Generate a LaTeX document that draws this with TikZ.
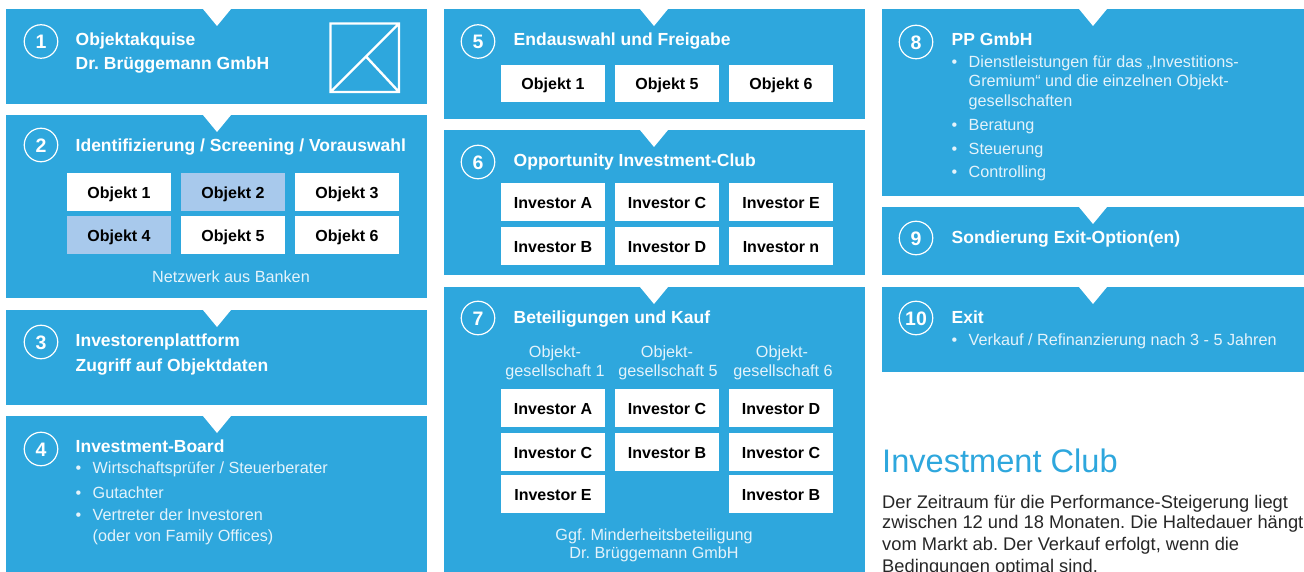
\documentclass[tikz,border=0pt]{standalone}
\usepackage{fontspec}
\setmainfont{Liberation Sans}
\frenchspacing
\definecolor{panelblue}{HTML}{2EA7DD}
\definecolor{lightblue}{HTML}{A8C9EC}
\definecolor{headblue}{HTML}{2EA7DD}
\definecolor{softwhite}{HTML}{E4F3FB}
\tikzset{
  panel/.style={fill=panelblue,draw=none},
  notch/.style={fill=white,draw=none},
  numc/.style={circle,draw=white,line width=1.2pt,minimum size=33.5pt,inner sep=0pt,text height=15pt,text depth=0pt,text=white,font=\fontsize{19.5}{19.5}\selectfont\bfseries},
  title/.style={anchor=base west,inner sep=0pt,text=white,font=\fontsize{17.5}{17.5}\selectfont\bfseries},
  body/.style={anchor=base west,inner sep=0pt,text=softwhite,font=\fontsize{16.2}{16.2}\selectfont},
  bodyc/.style={anchor=base,inner sep=0pt,text=softwhite,font=\fontsize{16.2}{16.2}\selectfont},
  cell/.style={fill=white,draw=none,minimum width=104pt,minimum height=38pt,inner sep=0pt,text height=12.6pt,text depth=0pt,text=black,font=\fontsize{16}{16}\selectfont\bfseries},
  cellb/.style={cell,fill=lightblue},
  para/.style={anchor=base west,inner sep=0pt,text=black!85,font=\fontsize{18.3}{18.3}\selectfont}
}
\newcommand{\panelbox}[5]{%
  \fill[panel] (#1,#2) rectangle (#3,#4);
  \fill[notch] (#5-14,#2) -- (#5+14,#2) -- (#5,#2+17) -- cycle;
}
\begin{document}
\begin{tikzpicture}[x=1pt,y=-1pt]
\useasboundingbox (0,0) rectangle (1304,572);
% column 1
\panelbox{6}{9}{427}{104}{217}
\panelbox{6}{115}{427}{298}{217}
\panelbox{6}{310}{427}{405}{217}
\panelbox{6}{416}{427}{572}{217}
% column 2
\panelbox{444}{9}{865}{119}{654}
\panelbox{444}{130}{865}{275}{654}
\panelbox{444}{287}{865}{572}{654}
% column 3
\panelbox{882}{9}{1304}{196}{1093}
\panelbox{882}{207}{1304}{275}{1093}
\panelbox{882}{287}{1304}{372}{1093}
% number circles
\node[numc] (n1) at (41,41.5) {1};
\node[numc] (n2) at (41,145) {2};
\node[numc] (n3) at (41,342) {3};
\node[numc] (n4) at (41,449) {4};
\node[numc] (n5) at (478,41.5) {5};
\node[numc] (n6) at (478,162) {6};
\node[numc] (n7) at (478,318) {7};
\node[numc] (n8) at (916,42) {8};
\node[numc] (n9) at (916,238) {9};
\node[numc] (n10) at (916,318) {10};
% titles
\node[title] (t1a) at (75.5,45.3) {Objektakquise};
\node[title] (t1b) at (75.5,69.3) {Dr. Brüggemann GmbH};
\node[title] (t2) at (75.5,151.3) {Identifizierung / Screening / Vorauswahl};
\node[title] (t3a) at (75.5,346.3) {Investorenplattform};
\node[title] (t3b) at (75.5,371.3) {Zugriff auf Objektdaten};
\node[title] (t4) at (75.5,452.3) {Investment-Board};
\node[title] (t5) at (513.5,45.3) {Endauswahl und Freigabe};
\node[title] (t6) at (513.5,166.3) {Opportunity Investment-Club};
\node[title] (t7) at (513.5,323.3) {Beteiligungen und Kauf};
\node[title] (t8) at (951.5,45.3) {PP GmbH};
\node[title] (t9) at (951.5,243.3) {Sondierung Exit-Option(en)};
\node[title] (t10) at (951.5,323.3) {Exit};
% icon
\draw[white,line width=2.4pt,line join=miter]
  (330.5,23.5) rectangle (399,92)
  (399,23.5) -- (330.5,92)
  (366,56.5) -- (399,92);
% panel 2
\node[cell] (a1) at (119,192) {Objekt 1};
\node[cellb] (a2) at (233,192) {Objekt 2};
\node[cell] (a3) at (347,192) {Objekt 3};
\node[cellb] (a4) at (119,235) {Objekt 4};
\node[cell] (a5) at (233,235) {Objekt 5};
\node[cell] (a6) at (347,235) {Objekt 6};
\node[bodyc] (netz) at (231,282.3) {Netzwerk aus Banken};
% panel 4
\node[body] (b4d1) at (75.5,473.8) {•};
\node[body] (b4a) at (92.5,473.8) {Wirtschaftsprüfer / Steuerberater};
\node[body] (b4d2) at (75.5,498.3) {•};
\node[body] (b4b) at (92.5,498.3) {Gutachter};
\node[body] (b4d3) at (75.5,520.8) {•};
\node[body] (b4c) at (92.5,520.8) {Vertreter der Investoren};
\node[body] (b4e) at (92.5,541.8) {(oder von Family Offices)};
% panel 5
\node[cell,minimum height=37pt] (c1) at (553,83.5) {Objekt 1};
\node[cell,minimum height=37pt] (c2) at (667,83.5) {Objekt 5};
\node[cell,minimum height=37pt] (c3) at (781,83.5) {Objekt 6};
% panel 6
\node[cell] (d1) at (553,202) {Investor A};
\node[cell] (d2) at (667,202) {Investor C};
\node[cell] (d3) at (781,202) {Investor E};
\node[cell] (d4) at (553,246) {Investor B};
\node[cell] (d5) at (667,246) {Investor D};
\node[cell] (d6) at (781,246) {Investor n};
% panel 7
\node[bodyc] (e1a) at (555,357.5) {Objekt-};
\node[bodyc] (e1b) at (555,376.5) {gesellschaft 1};
\node[bodyc] (e2a) at (667,357.5) {Objekt-};
\node[bodyc] (e2b) at (668,376.5) {gesellschaft 5};
\node[bodyc] (e3a) at (782,357.5) {Objekt-};
\node[bodyc] (e3b) at (783,376.5) {gesellschaft 6};
\node[cell] (f1) at (553,408) {Investor A};
\node[cell] (f2) at (667,408) {Investor C};
\node[cell] (f3) at (781,408) {Investor D};
\node[cell] (f4) at (553,452) {Investor C};
\node[cell] (f5) at (667,452) {Investor B};
\node[cell] (f6) at (781,452) {Investor C};
\node[cell] (f7) at (553,494) {Investor E};
\node[cell] (f8) at (781,494) {Investor B};
\node[bodyc] (g1) at (654,540) {Ggf. Minderheitsbeteiligung};
\node[bodyc] (g2) at (654,558) {Dr. Brüggemann GmbH};
% panel 8
\node[body] (h0) at (951.5,67.5) {•};
\node[body] (h1) at (968.5,67.5) {Dienstleistungen für das „Investitions-};
\node[body] (h2) at (968.5,87) {Gremium“ und die einzelnen Objekt-};
\node[body] (h3) at (968.5,106.5) {gesellschaften};
\node[body] (h4d) at (951.5,130.3) {•};
\node[body] (h4) at (968.5,130.3) {Beratung};
\node[body] (h5d) at (951.5,154.3) {•};
\node[body] (h5) at (968.5,154.3) {Steuerung};
\node[body] (h6d) at (951.5,177.3) {•};
\node[body] (h6) at (968.5,177.3) {Controlling};
% panel 10
\node[body] (i0) at (951.5,345.3) {•};
\node[body] (i1) at (968.5,345.3) {Verkauf / Refinanzierung nach 3 - 5 Jahren};
% text block
\node[anchor=base west,inner sep=0pt,text=headblue,font=\fontsize{32.6}{32.6}\selectfont] (ic) at (882,472) {Investment Club};
\node[para] (l1) at (882,508) {Der Zeitraum für die Performance-Steigerung liegt};
\node[para] (l2) at (882,528) {zwischen 12 und 18 Monaten. Die Haltedauer hängt};
\node[para] (l3) at (882,550) {vom Markt ab. Der Verkauf erfolgt, wenn die};
\node[para] (l4) at (882,572) {Bedingungen optimal sind.};
\end{tikzpicture}
\end{document}
